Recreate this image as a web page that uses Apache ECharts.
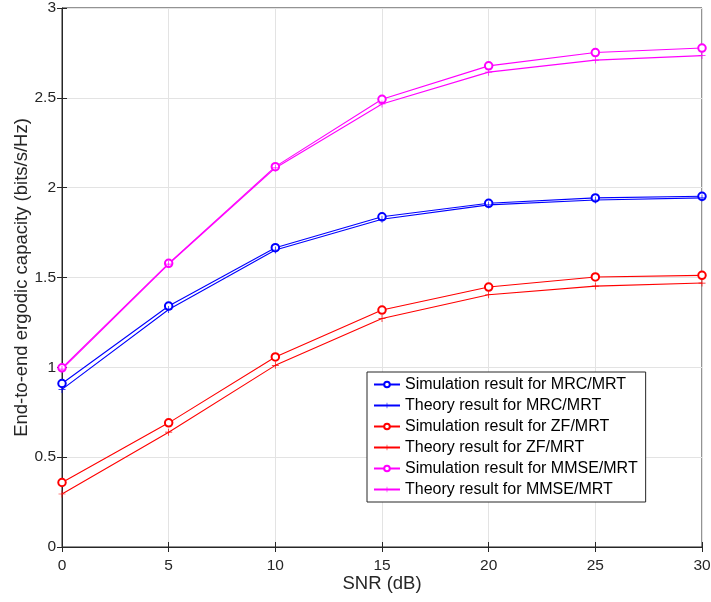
<!DOCTYPE html>
<html>
<head>
<meta charset="utf-8">
<script src="https://cdn.jsdelivr.net/npm/echarts@6/dist/echarts.min.js"></script>
<style>
  html, body { margin: 0; padding: 0; background: #fff; }
  #chart { width: 711px; height: 602px; }
</style>
</head>
<body>
<div id="chart"></div>
<script>
// SNR values (dB) on the x axis
const snr = [0, 5, 10, 15, 20, 25, 30];

// Ergodic capacity (bits/s/Hz) per receiver/transmitter scheme
const mrcSim    = [0.910, 1.341, 1.666, 1.838, 1.913, 1.943, 1.952];
const mrcTheory = [0.877, 1.322, 1.653, 1.824, 1.904, 1.931, 1.943];
const zfSim     = [0.359, 0.691, 1.058, 1.319, 1.447, 1.503, 1.512];
const zfTheory  = [0.295, 0.639, 1.011, 1.272, 1.404, 1.452, 1.469];
const mmseSim    = [0.997, 1.579, 2.117, 2.492, 2.678, 2.752, 2.777];
const mmseTheory = [0.990, 1.575, 2.110, 2.466, 2.643, 2.710, 2.735];

const xTicks = [0, 5, 10, 15, 20, 25, 30];
const yTicks = [0, 0.5, 1, 1.5, 2, 2.5, 3];

const FONT = '"Liberation Sans", Arial, Helvetica, sans-serif';
const INK = '#262626';

// thin plus-sign marker
const PLUS = 'path://M4.5,0h1v4.5h4.5v1h-4.5v4.5h-1v-4.5h-4.5v-1h4.5z';

function pairs(ys) { return snr.map((x, i) => [x, ys[i]]); }

function series(name, ys, color, marker) {
  const isCircle = marker === 'circle';
  return {
    name: name,
    type: 'line',
    data: pairs(ys),
    symbol: isCircle ? 'emptyCircle' : PLUS,
    symbolSize: isCircle ? 7.5 : 7,
    showAllSymbol: true,
    lineStyle: { color: color, width: 1.1 },
    itemStyle: isCircle
      ? { color: color, borderColor: color, borderWidth: 1 }
      : { color: color, borderWidth: 0 },
    emphasis: { disabled: true },
    animation: false,
    z: 3
  };
}

const chart = echarts.init(document.getElementById('chart'), null, { renderer: 'canvas' });

const hiddenAxisCommon = {
  axisLine: { show: false },
  axisLabel: { show: false },
  splitLine: { show: false },
  axisTick: { show: true, inside: true, length: 5, lineStyle: { color: INK } }
};

chart.setOption({
  backgroundColor: '#ffffff',
  textStyle: { fontFamily: FONT },
  grid: {
    left: 62, right: 9, top: 8, bottom: 55,
    containLabel: false, outerBoundsMode: 'none',
    show: true, borderColor: INK, borderWidth: 1, backgroundColor: 'transparent'
  },
  xAxis: [{
    type: 'value', min: 0, max: 30, interval: 5,
    name: 'SNR (dB)', nameLocation: 'middle', nameGap: 27, nameMoveOverlap: false,
    nameTextStyle: { color: INK, fontSize: 18.5, fontFamily: FONT },
    axisLine: { show: true, onZero: false, lineStyle: { color: INK } },
    axisTick: { show: true, inside: true, length: 5, lineStyle: { color: INK } },
    axisLabel: { color: INK, fontSize: 15.5, margin: 11, fontFamily: FONT,
      formatter: v => xTicks.includes(v) ? String(v) : '' },
    splitLine: { show: true, lineStyle: { color: '#e3e3e3', width: 1 } }
  }, Object.assign({
    type: 'value', min: 0, max: 30, interval: 5, position: 'top'
  }, hiddenAxisCommon)],
  yAxis: [{
    type: 'value', min: 0, max: 3, interval: 0.5,
    name: 'End-to-end ergodic capacity (bits/s/Hz)', nameLocation: 'middle', nameGap: 31,
    nameMoveOverlap: false,
    nameTextStyle: { color: INK, fontSize: 18.5, fontFamily: FONT },
    axisLine: { show: true, onZero: false, lineStyle: { color: INK } },
    axisTick: { show: true, inside: true, length: 5, lineStyle: { color: INK } },
    axisLabel: { color: INK, fontSize: 15.5, margin: 6, fontFamily: FONT,
      formatter: v => yTicks.includes(v) ? String(v) : '' },
    splitLine: { show: true, lineStyle: { color: '#e3e3e3', width: 1 } }
  }, Object.assign({
    type: 'value', min: 0, max: 3, interval: 0.5, position: 'right'
  }, hiddenAxisCommon)],
  legend: {
    left: 367, top: 372,
    orient: 'vertical',
    backgroundColor: '#ffffff',
    borderColor: INK, borderWidth: 1,
    padding: [2, 8, 2, 6],
    itemWidth: 26, itemHeight: 7, itemGap: 0,
    textStyle: { color: '#000', fontSize: 16, lineHeight: 21, fontFamily: FONT },
    selectedMode: false
  },
  series: [
    series('Simulation result for MRC/MRT', mrcSim, '#0000ff', 'circle'),
    series('Theory result for MRC/MRT', mrcTheory, '#0000ff', 'plus'),
    series('Simulation result for ZF/MRT', zfSim, '#ff0000', 'circle'),
    series('Theory result for ZF/MRT', zfTheory, '#ff0000', 'plus'),
    series('Simulation result for MMSE/MRT', mmseSim, '#ff00ff', 'circle'),
    series('Theory result for MMSE/MRT', mmseTheory, '#ff00ff', 'plus')
  ]
});
</script>
</body>
</html>
